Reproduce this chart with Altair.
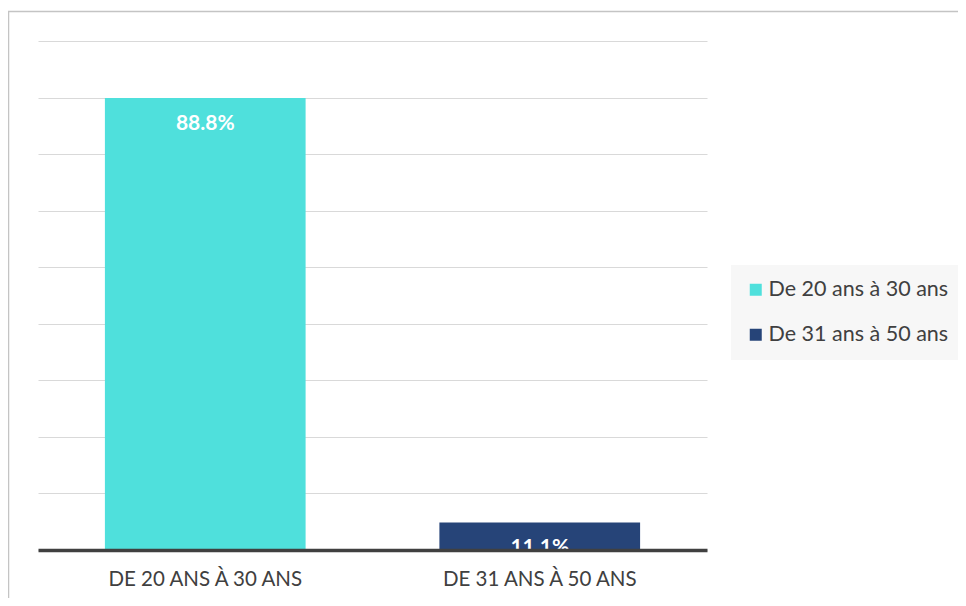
import altair as alt
import pandas as pd

# Data
categories = ["De 20 ans à 30 ans", "De 31 ans à 50 ans"]
values = [0.888, 0.111]
labels = ["88.8%", "11.1%"]
colors = ["#4FE0DC", "#264478"]

# Axis range as drawn in the reference (non-zero baseline)
Y_MIN, Y_MAX = 0.0606, 0.9923
grid_values = [Y_MIN + i * (Y_MAX - Y_MIN) / 9 for i in range(10)]

df = pd.DataFrame({"cat": categories, "value": values, "label": labels})

W, H = 669, 509
FONT = "Lato"
TXT = "#404040"

x_enc = alt.X(
    "cat:N",
    sort=categories,
    scale=alt.Scale(paddingInner=0.4, paddingOuter=0.2),
    axis=alt.Axis(
        title=None, labelExpr="upper(datum.label)", labelAngle=0, ticks=False,
        domainColor=TXT, domainWidth=3.5, labelFontSize=20.5, labelColor=TXT,
        labelPadding=19, labelFont=FONT, labelLimit=400, zindex=1, grid=False,
    ),
)
y_enc = alt.Y(
    "value:Q",
    scale=alt.Scale(domain=[Y_MIN, Y_MAX], zero=False, nice=False),
    axis=alt.Axis(
        title=None, labels=False, ticks=False, domain=False,
        values=grid_values, gridColor="#d9d9d9", gridWidth=1.2,
    ),
)

frame = alt.Chart(pd.DataFrame({"f": [0]})).mark_rect(
    filled=False, stroke="#c4c4c4", strokeWidth=1.5
).encode(
    x=alt.value(-29.5), y=alt.value(-29.5), x2=alt.value(3000), y2=alt.value(3000)
)

bars = alt.Chart(df).mark_bar().encode(
    x=x_enc,
    y=y_enc,
    y2=alt.datum(Y_MIN),
    color=alt.Color(
        "cat:N",
        scale=alt.Scale(domain=categories, range=colors),
        legend=alt.Legend(
            title=None, orient="none", legendX=693, legendY=224,
            symbolType="square", symbolSize=144, symbolStrokeWidth=0,
            labelFontSize=21.5, labelColor=TXT, labelFont=FONT, labelOffset=2,
            labelLimit=400,
            fillColor="#f7f7f7", padding=14, rowPadding=22,
            direction="vertical",
        ),
    ),
)

text = alt.Chart(df).mark_text(
    dy=26, color="white", fontWeight="bold", fontSize=21, font=FONT, baseline="middle"
).encode(x=alt.X("cat:N", sort=categories), y=alt.Y("value:Q"), text="label:N")

chart = alt.layer(frame, bars, text).properties(
    width=W, height=H,
    autosize=alt.AutoSizeParams(type="none"),
    padding={"left": 30, "top": 33, "right": 251, "bottom": 48},
    background="white",
).configure_view(stroke=None)

chart.save("out.html", embed_options={"renderer": "svg", "actions": False})
